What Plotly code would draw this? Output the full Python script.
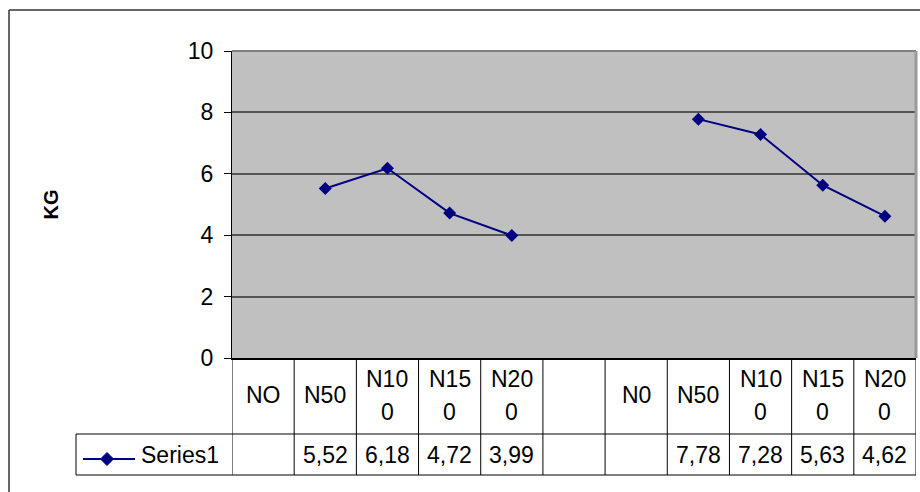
import plotly.graph_objects as go

# ---- data ----
categories = ["NO", "N50", "N100", "N150", "N200", "", "N0", "N50", "N100", "N150", "N200"]
series_name = "Series1"
series_values = [None, 5.52, 6.18, 4.72, 3.99, None, None, 7.78, 7.28, 5.63, 4.62]
y_ticks = [0, 2, 4, 6, 8, 10]

# ---- geometry (pixels) ----
W, H = 920, 492
ML, MR, MT, MB = 232, 4, 51, 134
PW = W - ML - MR
PH = H - MT - MB
FONT = "Liberation Sans, Arial, sans-serif"
FS = 23
NAVY = "#000080"


def px_x(p):
    return (p - ML) / PW


def px_y(p):
    return (H - MB - p) / PH


x_idx = list(range(len(categories)))

fig = go.Figure()
fig.add_trace(go.Scatter(
    x=x_idx, y=series_values, mode="lines+markers", name=series_name,
    line=dict(color=NAVY, width=2),
    marker=dict(symbol="diamond", size=10, color=NAVY),
    connectgaps=False, showlegend=False, hoverinfo="skip",
))

shapes = []
annotations = []

# plot-area border (top and right)
shapes.append(dict(type="line", xref="paper", yref="paper", x0=0, x1=1, y0=1, y1=1,
                   line=dict(color="#808080", width=2)))
shapes.append(dict(type="line", xref="paper", yref="paper", x0=1, x1=1, y0=0, y1=1,
                   line=dict(color="#999999", width=3)))

# outer chart border
shapes.append(dict(type="line", xref="paper", yref="paper", x0=px_x(9), x1=px_x(W + 20),
                   y0=px_y(10), y1=px_y(10), line=dict(color="#333333", width=1.5)))
shapes.append(dict(type="line", xref="paper", yref="paper", x0=px_x(9), x1=px_x(9),
                   y0=px_y(10), y1=px_y(H + 20), line=dict(color="#333333", width=1.5)))

# data table grid
row1_bot = 434
row2_bot = 475
legend_left = 76
for i in range(len(categories) + 1):
    shapes.append(dict(type="line", xref="x", yref="paper", x0=i - 0.5, x1=i - 0.5,
                       y0=0, y1=px_y(row2_bot), line=dict(color="black", width=1)))
for yy in (row1_bot, row2_bot):
    shapes.append(dict(type="line", xref="paper", yref="paper", x0=px_x(legend_left), x1=1,
                       y0=px_y(yy), y1=px_y(yy), line=dict(color="black", width=1)))
shapes.append(dict(type="line", xref="paper", yref="paper", x0=px_x(legend_left), x1=px_x(legend_left),
                   y0=px_y(row1_bot), y1=px_y(row2_bot), line=dict(color="black", width=1)))

# category labels (wrapped like the table cells)
row1_mid = (H - MB + row1_bot) / 2
for i, c in enumerate(categories):
    if not c:
        continue
    if len(c) > 3:
        parts = [c[:3], c[3:]]
        ys = [row1_mid - 17, row1_mid + 16]
    else:
        parts = [c]
        ys = [row1_mid - 1]
    for t, yy in zip(parts, ys):
        annotations.append(dict(x=i, xref="x", y=px_y(yy), yref="paper", text=t,
                                showarrow=False, xanchor="center", yanchor="middle",
                                font=dict(family=FONT, size=FS, color="black")))

# value row
row2_mid = (row1_bot + row2_bot) / 2
for i, v in enumerate(series_values):
    if v is None:
        continue
    annotations.append(dict(x=i, xref="x", y=px_y(row2_mid), yref="paper",
                            text=f"{v:.2f}".replace(".", ","), showarrow=False,
                            xanchor="center", yanchor="middle",
                            font=dict(family=FONT, size=FS, color="black")))

# legend key in the table
key_y = 459
shapes.append(dict(type="line", xref="paper", yref="paper", x0=px_x(83), x1=px_x(135),
                   y0=px_y(key_y), y1=px_y(key_y), line=dict(color=NAVY, width=2)))
shapes.append(dict(type="path", xref="paper", yref="paper",
                   xsizemode="pixel", ysizemode="pixel",
                   xanchor=px_x(107), yanchor=px_y(key_y),
                   path="M -6.5 0 L 0 6.5 L 6.5 0 L 0 -6.5 Z",
                   fillcolor=NAVY, line=dict(color=NAVY, width=1)))
annotations.append(dict(x=px_x(139), xref="paper", y=px_y(row2_mid), yref="paper",
                        text=series_name, showarrow=False, xanchor="left", yanchor="middle",
                        font=dict(family=FONT, size=FS, color="black")))

# y-axis title
annotations.append(dict(x=px_x(50), xref="paper", y=0.5, yref="paper", text="<b>KG</b>",
                        textangle=-90, showarrow=False, xanchor="center", yanchor="middle",
                        font=dict(family=FONT, size=20, color="black")))

fig.update_layout(
    width=W, height=H,
    margin=dict(l=ML, r=MR, t=MT, b=MB, pad=0),
    paper_bgcolor="white", plot_bgcolor="#C0C0C0",
    showlegend=False,
    shapes=shapes, annotations=annotations,
    xaxis=dict(range=[-0.5, len(categories) - 0.5], showticklabels=False, ticks="",
               showgrid=False, zeroline=False, showline=True, linecolor="black",
               linewidth=1.5, fixedrange=True),
    yaxis=dict(range=[0, 10], tickvals=y_ticks, ticks="outside", ticklen=7,
               tickcolor="black", tickwidth=1, showline=True, linecolor="black",
               linewidth=1, showgrid=True, gridcolor="#555555", gridwidth=1.5,
               zeroline=False, ticklabelstandoff=6,
               tickfont=dict(family=FONT, size=FS, color="black"), fixedrange=True),
)

fig.write_html("out.html")
